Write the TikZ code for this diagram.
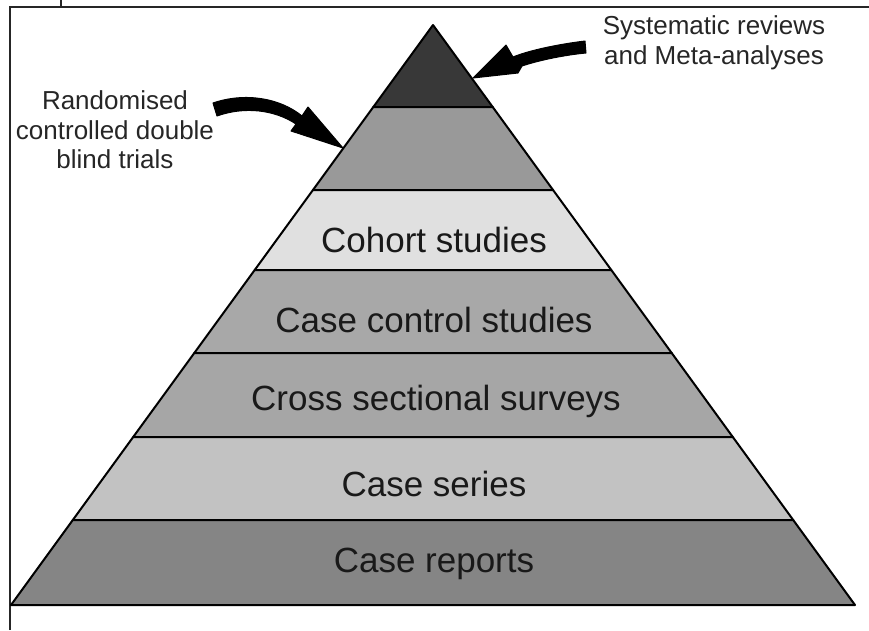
\documentclass[tikz,border=0pt]{standalone}
\usepackage{fontspec}
\setmainfont{Liberation Sans}
\begin{document}
\begin{tikzpicture}[x=1pt,y=-1pt,
  layer/.style={draw=black, line width=2pt, line join=round},
  framerule/.style={draw=black!85, line width=2pt},
  bandlabel/.style={font=\fontsize{35}{38}\selectfont, inner sep=0pt, text=black!90},
  sidelabel/.style={font=\fontsize{26}{29.5}\selectfont, align=center, inner sep=0pt, text=black!85},
  bigarrow/.style={fill=black, draw=black, line width=1pt, line join=round}]
\useasboundingbox (0,0) rectangle (869,630);
% frame
\draw[framerule] (10,630) -- (10,7) -- (869,7);
\draw[framerule] (61,0) -- (61,7);
% pyramid layers
\filldraw[layer, fill=black!78] (433,25) -- (492.7,107) -- (373.3,107) -- cycle;
\filldraw[layer, fill=black!40] (373.3,107) -- (492.7,107) -- (553.05,190) -- (312.95,190) -- cycle;
\filldraw[layer, fill=black!12] (312.95,190) -- (553.05,190) -- (611.3,270) -- (254.7,270) -- cycle;
\filldraw[layer, fill=black!34] (254.7,270) -- (611.3,270) -- (671.7,353) -- (194.3,353) -- cycle;
\filldraw[layer, fill=black!35] (194.3,353) -- (671.7,353) -- (732.8,437) -- (133.2,437) -- cycle;
\filldraw[layer, fill=black!24] (133.2,437) -- (732.8,437) -- (793.2,520) -- (72.8,520) -- cycle;
\filldraw[layer, fill=black!48] (72.8,520) -- (793.2,520) -- (855,605) -- (11,605) -- cycle;
% band labels
\node[bandlabel] (cohort) at (434,240) {Cohort studies};
\node[bandlabel] (casecontrol) at (434,320) {Case control studies};
\node[bandlabel] (cross) at (436,401) {Cross sectional surveys};
\node[bandlabel] (series) at (434,484) {Case series};
\node[bandlabel] (reports) at (434,564) {Case reports};
% side labels
\node[sidelabel] (sysrev) at (714,43) {Systematic reviews\\and Meta-analyses};
\node[sidelabel] (rct) at (115,130) {Randomised\\controlled double\\blind trials};
% right arrow
\coordinate (rtip) at (473,78);
\path[bigarrow] (585,41) .. controls (560,44) and (530,50) .. (513,57)
  -- (506,45) -- (rtip) -- (518,73) -- (522,66)
  .. controls (540,60) and (565,55) .. (586,53) -- cycle;
% left arrow
\coordinate (ltip) at (343,148);
\path[bigarrow] (213,103) .. controls (245,92) and (280,98) .. (302,116)
  -- (308,107) -- (ltip) -- (291,131) -- (296,124)
  .. controls (275,110) and (245,106) .. (217,116) -- cycle;
\end{tikzpicture}
\end{document}
